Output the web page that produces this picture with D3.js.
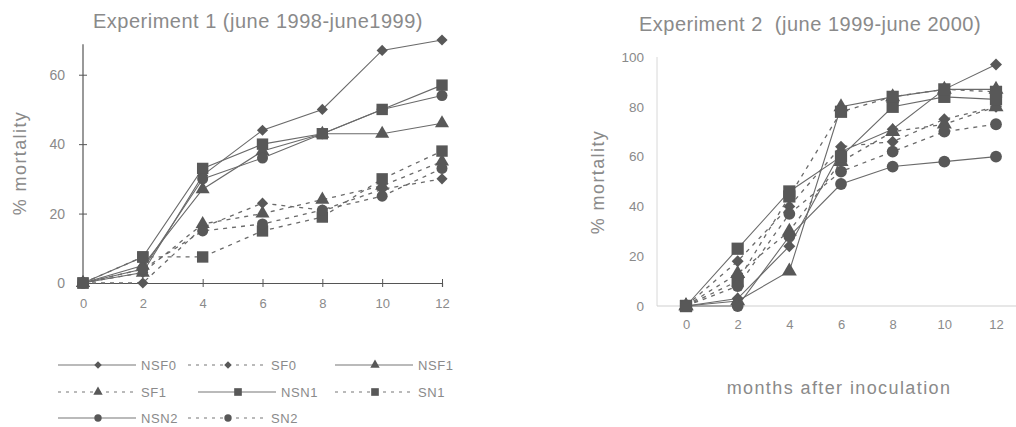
<!DOCTYPE html>
<html>
<head>
<meta charset="utf-8">
<script src="https://cdn.jsdelivr.net/npm/d3@7/dist/d3.min.js"></script>
<style>
  html, body { margin: 0; padding: 0; background: #fff; }
  svg { display: block; }
  text { font-family: "Liberation Sans", Arial, sans-serif; fill: #8a8a8a; white-space: pre; }
</style>
</head>
<body>
<svg id="chart" width="1016" height="427"></svg>
<script>
// Months after inoculation
const months = [0, 2, 4, 6, 8, 10, 12];

// Experiment 1 (june 1998 - june 1999), % mortality
const exp1NSF0 = [0, 3, 31, 44, 50, 67, 70];
const exp1SF0  = [0, 0, 16, 23, 21, 27, 30];
const exp1NSF1 = [0, 5, 27, 38, 43, 43, 46];
const exp1SF1  = [0, 3, 17, 20, 24, 28, 35];
const exp1NSN1 = [0, 7.5, 33, 40, 43, 50, 57];
const exp1SN1  = [0, 7.5, 7.5, 15, 19, 30, 38];
const exp1NSN2 = [0, 4, 30, 36, 43, 50, 54];
const exp1SN2  = [0, 4, 15, 17, 21, 25, 33];

// Experiment 2 (june 1999 - june 2000), % mortality
const exp2NSF0 = [0, 3, 24, 62, 71, 87, 97];
const exp2SF0  = [0, 18, 40, 64, 66, 75, 80];
const exp2NSF1 = [0, 2, 14, 80, 84, 87, 87];
const exp2SF1  = [0, 13, 30, 58, 70, 73, 80];
const exp2NSN1 = [0, 23, 46, 60, 80, 84, 83];
const exp2SN1  = [0, 10, 44, 78, 84, 87, 86];
const exp2NSN2 = [0, 0, 28, 49, 56, 58, 60];
const exp2SN2  = [0, 8, 37, 54, 62, 70, 73];

const seriesNames = ["NSF0", "SF0", "NSF1", "SF1", "NSN1", "SN1", "NSN2", "SN2"];
const exp1Values = [exp1NSF0, exp1SF0, exp1NSF1, exp1SF1, exp1NSN1, exp1SN1, exp1NSN2, exp1SN2];
const exp2Values = [exp2NSF0, exp2SF0, exp2NSF1, exp2SF1, exp2NSN1, exp2SN1, exp2NSN2, exp2SN2];

const yTicks1 = [0, 20, 40, 60];
const yTicks2 = [0, 20, 40, 60, 80, 100];
const xTicks = [0, 2, 4, 6, 8, 10, 12];

// Marker shape per series: F0 diamond (square turned 45°), F1 triangle, N1 square, N2 circle
const symbolFor = {
  NSF0: d3.symbolSquare, SF0: d3.symbolSquare,
  NSF1: d3.symbolTriangle, SF1: d3.symbolTriangle,
  NSN1: d3.symbolSquare, SN1: d3.symbolSquare,
  NSN2: d3.symbolCircle, SN2: d3.symbolCircle
};
const rotateFor = { NSF0: 45, SF0: 45 };
const sizeFor = {
  NSF0: 62, SF0: 62, NSF1: 85, SF1: 85,
  NSN1: 130, SN1: 130, NSN2: 95, SN2: 95
};
const isDashed = name => name.startsWith("S");

const svg = d3.select("#chart");
const lineColor = "#6a6a6a";
const markColor = "#585858";
const fontFamily = "Liberation Sans, Arial, sans-serif";

function drawSeries(g, x, y, values, sizeScale) {
  seriesNames.forEach((name, i) => {
    const pts = months.map((m, j) => [m, values[i][j]]);
    const line = d3.line().x(d => x(d[0])).y(d => y(d[1]));
    g.append("path")
      .attr("d", line(pts))
      .attr("fill", "none")
      .attr("stroke", lineColor)
      .attr("stroke-width", isDashed(name) ? 1.3 : 1.1)
      .attr("stroke-dasharray", isDashed(name) ? "4,5" : null);
  });
  seriesNames.forEach((name, i) => {
    const sym = d3.symbol().type(symbolFor[name]).size(sizeFor[name] * sizeScale);
    const rot = rotateFor[name] || 0;
    g.selectAll(null)
      .data(months.map((m, j) => [m, values[i][j]]))
      .join("path")
      .attr("d", sym)
      .attr("transform", d => `translate(${x(d[0])},${y(d[1])}) rotate(${rot})`)
      .attr("fill", markColor);
  });
}

// ---------- Experiment 1 ----------
const x1 = d3.scaleLinear().domain([0, 12]).range([83, 442]);
const y1 = d3.scaleLinear().domain([0, 70]).range([283, 40]);
const g1 = svg.append("g");

g1.append("text")
  .attr("x", 258).attr("y", 28)
  .attr("text-anchor", "middle")
  .attr("font-size", 20)
  .attr("letter-spacing", 0.5)
  .text("Experiment 1 (june 1998-june1999)");

const yAxis1 = g1.append("g")
  .attr("transform", `translate(${x1(0)},0)`)
  .call(d3.axisLeft(y1).tickValues(yTicks1).tickSize(4).tickPadding(14));
yAxis1.select(".domain").remove();
yAxis1.selectAll(".tick line").attr("x1", -4).attr("x2", 4).attr("stroke", "#555");
yAxis1.selectAll(".tick text").attr("font-size", 14).attr("fill", "#8a8a8a")
  .attr("font-family", fontFamily);
g1.append("line")
  .attr("x1", x1(0)).attr("x2", x1(0))
  .attr("y1", y1(0)).attr("y2", y1(68.8))
  .attr("stroke", "#555").attr("stroke-width", 1.2);

const xAxis1 = g1.append("g")
  .attr("transform", `translate(0,${y1(0)})`)
  .call(d3.axisBottom(x1).tickValues(xTicks).tickSize(4).tickPadding(12));
xAxis1.select(".domain").attr("stroke", "#555").attr("stroke-width", 1.2);
xAxis1.selectAll(".tick line").attr("y1", -4).attr("y2", 4).attr("stroke", "#555");
xAxis1.selectAll(".tick text").attr("font-size", 13).attr("fill", "#8a8a8a")
  .attr("font-family", fontFamily);

g1.append("text")
  .attr("transform", "translate(26,163) rotate(-90)")
  .attr("text-anchor", "middle")
  .attr("font-size", 18)
  .attr("letter-spacing", 1.4)
  .text("% mortality");

drawSeries(g1.append("g"), x1, y1, exp1Values, 1);

// ---------- Experiment 2 ----------
const x2 = d3.scaleLinear().domain([0, 12]).range([686, 996]);
const y2 = d3.scaleLinear().domain([0, 100]).range([306, 57]);
const g2 = svg.append("g");

g2.append("text")
  .attr("x", 810).attr("y", 31)
  .attr("text-anchor", "middle")
  .attr("font-size", 20)
  .attr("letter-spacing", 0.5)
  .attr("fill", "#727272")
  .text("Experiment 2  (june 1999-june 2000)");

const yAxis2 = g2.append("g")
  .attr("transform", "translate(657,0)")
  .call(d3.axisLeft(y2).tickValues(yTicks2).tickSize(0).tickPadding(13));
yAxis2.select(".domain").remove();
yAxis2.selectAll(".tick text").attr("font-size", 13.5).attr("fill", "#8a8a8a")
  .attr("font-family", fontFamily);
g2.append("line")
  .attr("x1", 657).attr("x2", 657)
  .attr("y1", y2(0)).attr("y2", y2(100))
  .attr("stroke", "#d8d8d8").attr("stroke-width", 1);

const xAxis2 = g2.append("g")
  .attr("transform", `translate(0,${y2(0)})`)
  .call(d3.axisBottom(x2).tickValues(xTicks).tickSize(0).tickPadding(14));
xAxis2.select(".domain").remove();
xAxis2.selectAll(".tick text").attr("font-size", 13).attr("fill", "#8a8a8a")
  .attr("font-family", fontFamily);
g2.append("line")
  .attr("x1", 657).attr("x2", 1016)
  .attr("y1", y2(0)).attr("y2", y2(0))
  .attr("stroke", "#cfcfcf").attr("stroke-width", 1);

g2.append("text")
  .attr("transform", "translate(604,182) rotate(-90)")
  .attr("text-anchor", "middle")
  .attr("font-size", 18)
  .attr("letter-spacing", 1.4)
  .text("% mortality");

g2.append("text")
  .attr("x", 839).attr("y", 394)
  .attr("text-anchor", "middle")
  .attr("font-size", 18)
  .attr("letter-spacing", 1.4)
  .text("months after inoculation");

drawSeries(g2.append("g"), x2, y2, exp2Values, 1.15);

// ---------- Legend ----------
const legendRows = [
  ["NSF0", "SF0", "NSF1"],
  ["SF1", "NSN1", "SN1"],
  ["NSN2", "SN2"]
];
const legendColX = [58, 198, 335];
const legendRowY = [365, 392, 418];
const legend = svg.append("g");
legendRows.forEach((row, r) => {
  row.forEach((name, c) => {
    const lx = legendColX[c] - (c === 1 && isDashed(name) ? 10 : 0);
    const gy = legendRowY[r];
    const item = legend.append("g").attr("transform", `translate(${lx},${gy})`);
    item.append("line")
      .attr("x1", 0).attr("x2", 78).attr("y1", 0).attr("y2", 0)
      .attr("stroke", "#777").attr("stroke-width", 1.1)
      .attr("stroke-dasharray", isDashed(name) ? "3,5" : null);
    item.append("path")
      .attr("d", d3.symbol().type(symbolFor[name]).size(sizeFor[name] * 0.45)())
      .attr("transform", `translate(40,0) rotate(${rotateFor[name] || 0})`)
      .attr("fill", markColor);
    item.append("text")
      .attr("x", 83).attr("y", 5)
      .attr("font-size", 13)
      .attr("letter-spacing", 0.6)
      .text(name);
  });
});
</script>
</body>
</html>
